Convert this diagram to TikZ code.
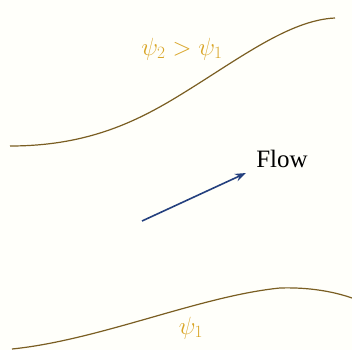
\documentclass[tikz,border=0pt]{standalone}
\usepackage{fontspec}
\setmainfont{Liberation Serif}
\usetikzlibrary{arrows.meta}
\tikzset{>={Stealth[length=11pt,width=8pt]}}
\usepackage[svgnames]{xcolor}
\definecolor{lineolive}{HTML}{7A5E22}
\definecolor{labelgold}{HTML}{D9A526}
\definecolor{flowblue}{HTML}{24407E}
\tikzset{
  streamline/.style={lineolive, line width=1.2pt},
  psilabel/.style={labelgold, font=\fontsize{25}{29}\selectfont},
}

\begin{document}
\begin{tikzpicture}[x=1pt,y=-1pt]
  % 边界
  \useasboundingbox (0,0) rectangle (352,350);
  \fill[white!98!yellow] (0,0) rectangle (352,350);

  % 坐标点定义
  \coordinate (A) at (142,221);
  \coordinate (B) at (246,173);

  % 流线
  \draw[streamline] (10,146) .. controls (90,146) and (140,120) .. (185,92)
    .. controls (240,58) and (290,20) .. (335,18);
  \draw[streamline] (12,349) .. controls (100,340) and (200,296) .. (280,288)
    .. controls (310,287) and (335,292) .. (352,298);

  % 箭头
  \draw[->, flowblue, line width=1.6pt] (A) -- (B);

  % 文本标签
  \node[psilabel] (psi2) at (182,49) {$\psi_2 > \psi_1$};
  \node[psilabel] (psi1) at (191,328) {$\psi_1$};
  \node[font=\fontsize{25}{29}\selectfont] (flow) at (282,159) {Flow};
\end{tikzpicture}
\end{document}
